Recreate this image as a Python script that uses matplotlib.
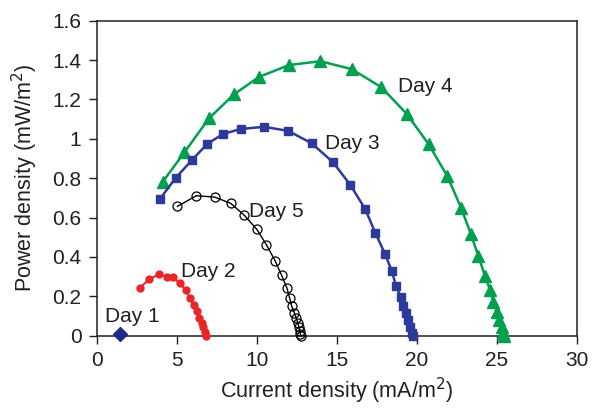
import matplotlib
matplotlib.use("Agg")
import matplotlib.pyplot as plt

plt.rcParams['font.family'] = ['Liberation Sans', 'DejaVu Sans']

# Day 1
d1_x = [1.46]
d1_y = [0.008]

# Day 2
d2_x = [2.71, 3.29, 3.91, 4.38, 4.75, 5.18, 5.58, 5.83, 6.06, 6.25, 6.41, 6.56, 6.66, 6.77, 6.85]
d2_y = [0.244, 0.287, 0.313, 0.300, 0.298, 0.266, 0.232, 0.191, 0.156, 0.125, 0.092, 0.067, 0.042, 0.019, 0.0]

# Day 3
d3_x = [3.93, 4.93, 5.94, 6.91, 7.88, 9.00, 10.48, 11.98, 13.44, 14.77, 15.86, 16.79, 17.41,
        18.02, 18.44, 18.71, 19.00, 19.16, 19.33, 19.48, 19.58, 19.69, 19.74]
d3_y = [0.692, 0.801, 0.891, 0.974, 1.024, 1.050, 1.061, 1.040, 0.977, 0.881, 0.765, 0.642, 0.523,
        0.415, 0.330, 0.252, 0.198, 0.151, 0.114, 0.080, 0.046, 0.012, 0.0]

# Day 4
d4_x = [4.13, 5.48, 7.02, 8.58, 10.16, 12.04, 13.98, 15.94, 17.79, 19.38, 20.75, 21.91, 22.77,
        23.39, 23.85, 24.27, 24.58, 24.79, 25.00, 25.16, 25.31, 25.41, 25.45]
d4_y = [0.782, 0.931, 1.104, 1.226, 1.315, 1.375, 1.394, 1.354, 1.262, 1.126, 0.972, 0.811, 0.650,
        0.515, 0.405, 0.303, 0.233, 0.173, 0.122, 0.080, 0.046, 0.015, 0.0]

# Day 5
d5_x = [5.05, 6.23, 7.38, 8.38, 9.21, 10.00, 10.60, 11.16, 11.56, 11.89, 12.06, 12.19, 12.36,
        12.48, 12.57, 12.64, 12.69, 12.73, 12.75]
d5_y = [0.657, 0.711, 0.704, 0.672, 0.613, 0.541, 0.463, 0.379, 0.306, 0.242, 0.191, 0.149, 0.114,
        0.088, 0.064, 0.044, 0.026, 0.010, 0.0]

labels = ["Day 1", "Day 2", "Day 3", "Day 4", "Day 5"]
label_x = [0.52, 5.27, 14.27, 18.83, 9.52]
label_y = [0.0975, 0.324, 0.974, 1.268, 0.631]

xticks = [0, 5, 10, 15, 20, 25, 30]
yticks = [0, 0.2, 0.4, 0.6, 0.8, 1.0, 1.2, 1.4, 1.6]
ytick_labels = ["0", "0.2", "0.4", "0.6", "0.8", "1", "1.2", "1.4", "1.6"]

green = '#00A04E'
blue = '#2E3A9A'
navy = '#1F2A8A'
red = '#E8262A'
ink = '#231F20'

fig = plt.figure(figsize=(5.92, 4.08), dpi=100)
ax = fig.add_axes([0.1633, 0.1772, 0.8109, 0.7721])

ax.plot(d4_x, d4_y, color=green, lw=1.8, marker='^', ms=8, mec=green, mfc=green, clip_on=False, zorder=3)
ax.plot(d3_x, d3_y, color=blue, lw=1.8, marker='s', ms=6.3, mec=blue, mfc=blue, clip_on=False, zorder=3)
ax.plot(d5_x, d5_y, color='black', lw=1.0, marker='o', ms=6.5, mec='black', mfc='none', mew=0.9, clip_on=False, zorder=3)
ax.plot(d2_x, d2_y, color=red, lw=1.5, marker='o', ms=5, mec=red, mfc=red, clip_on=False, zorder=3)
ax.plot(d1_x, d1_y, color=navy, lw=0, marker='D', ms=7, mec=navy, mfc=navy, clip_on=False, zorder=4)

for t, x, y in zip(labels, label_x, label_y):
    ax.text(x, y, t, fontsize=15, color=ink, ha='left', va='center')

ax.set_xlim(0, 30)
ax.set_ylim(0, 1.6)
ax.set_xticks(xticks)
ax.set_xticklabels([str(v) for v in xticks])
ax.set_yticks(yticks)
ax.set_yticklabels(ytick_labels)
ax.tick_params(direction='out', length=6, width=1, labelsize=15, colors=ink, pad=5)
for s in ax.spines.values():
    s.set_linewidth(1.1)
    s.set_color(ink)

ax.set_xlabel("Current density (mA/m$^2$)", fontsize=15.5, color=ink, labelpad=4)
ax.set_ylabel("Power density (mW/m$^2$)", fontsize=15.5, color=ink, labelpad=9)

fig.savefig("out.png", dpi=100)
